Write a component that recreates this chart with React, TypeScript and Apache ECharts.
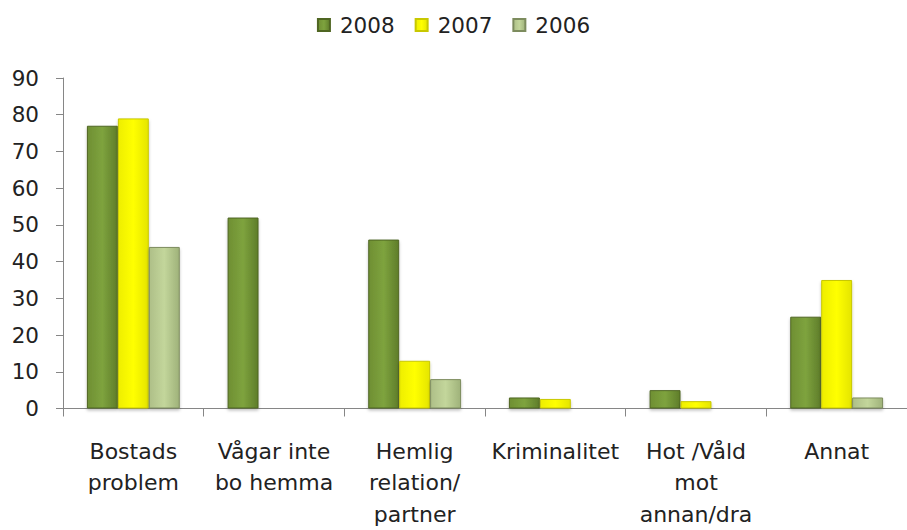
import React, { useEffect, useRef } from "react";
import * as echarts from "echarts";

const categories = [
  "Bostads\nproblem",
  "Vågar inte\nbo hemma",
  "Hemlig\nrelation/\npartner",
  "Kriminalitet",
  "Hot /Våld\nmot\nannan/dra",
  "Annat",
];
const years = ["2008", "2007", "2006"];
const values2008 = [77, 52, 46, 3, 5, 25];
const values2007 = [79, 0, 13, 2.6, 2, 35];
const values2006 = [44, 0, 8, 0, 0, 3];
const yTicks = [0, 10, 20, 30, 40, 50, 60, 70, 80, 90];

const grad = (l: string, m: string, r: string) =>
  new echarts.graphic.LinearGradient(0, 0, 1, 0, [
    { offset: 0, color: l },
    { offset: 0.5, color: m },
    { offset: 1, color: r },
  ]);

export default function App() {
  const ref = useRef<HTMLDivElement>(null);
  useEffect(() => {
    if (!ref.current) return;
    const chart = echarts.init(ref.current, undefined, { renderer: "svg" });
    const font = "'DejaVu Sans', sans-serif";
    const mk = (name: string, data: number[], style: any) => ({
      name,
      type: "bar",
      data: data.map((v) => (v === 0 ? null : v)),
      barGap: "0%",
      barCategoryGap: "34%",
      itemStyle: style,
    });
    chart.setOption({
      animation: false,
      textStyle: { fontFamily: font },
      legend: {
        top: 9,
        left: "center",
        itemWidth: 12,
        itemHeight: 12,
        itemGap: 20,
        icon: "rect",
        textStyle: { fontSize: 21.5, color: "#222", fontFamily: font, padding: [0, 0, 0, 5] },
        data: years,
      },
      grid: { left: 63, top: 78, width: 852, bottom: 121, containLabel: false },
      xAxis: {
        type: "category",
        data: categories,
        axisLine: { show: true, lineStyle: { color: "#868686", width: 1 } },
        axisTick: { show: true, length: 8, lineStyle: { color: "#868686" } },
        axisLabel: {
          interval: 0,
          fontSize: 22,
          lineHeight: 31.5,
          color: "#222",
          margin: 27,
          fontFamily: font,
        },
        splitLine: { show: false },
      },
      yAxis: {
        type: "value",
        min: 0,
        max: 90,
        interval: 10,
        axisLine: { show: true, lineStyle: { color: "#868686", width: 1 } },
        axisTick: { show: true, length: 7, lineStyle: { color: "#868686" } },
        axisLabel: {
          fontSize: 21.5,
          color: "#222",
          margin: 24,
          fontFamily: font,
          formatter: (v: number) => (yTicks.includes(v) ? String(v) : ""),
        },
        splitLine: { show: false },
      },
      series: [
        mk("2008", values2008, {
          color: grad("#6f8f33", "#7ea33e", "#5f7d2a"),
          borderColor: "#4f6622",
          borderWidth: 1,
          shadowColor: "rgba(0,0,0,0.25)",
          shadowBlur: 3,
          shadowOffsetY: 2,
        }),
        mk("2007", values2007, {
          color: grad("#eeee00", "#ffff00", "#e5e500"),
          borderColor: "#c8c800",
          borderWidth: 1,
          shadowColor: "rgba(0,0,0,0.25)",
          shadowBlur: 3,
          shadowOffsetY: 2,
        }),
        mk("2006", values2006, {
          color: grad("#aebf88", "#c3d69b", "#9fb27a"),
          borderColor: "#7d8c5e",
          borderWidth: 1,
          shadowColor: "rgba(0,0,0,0.25)",
          shadowBlur: 3,
          shadowOffsetY: 2,
        }),
      ],
    });
    return () => chart.dispose();
  }, []);
  return (
    <div
      ref={ref}
      style={{ position: "absolute", left: 0, top: 0, width: 907, height: 530 }}
    />
  );
}
